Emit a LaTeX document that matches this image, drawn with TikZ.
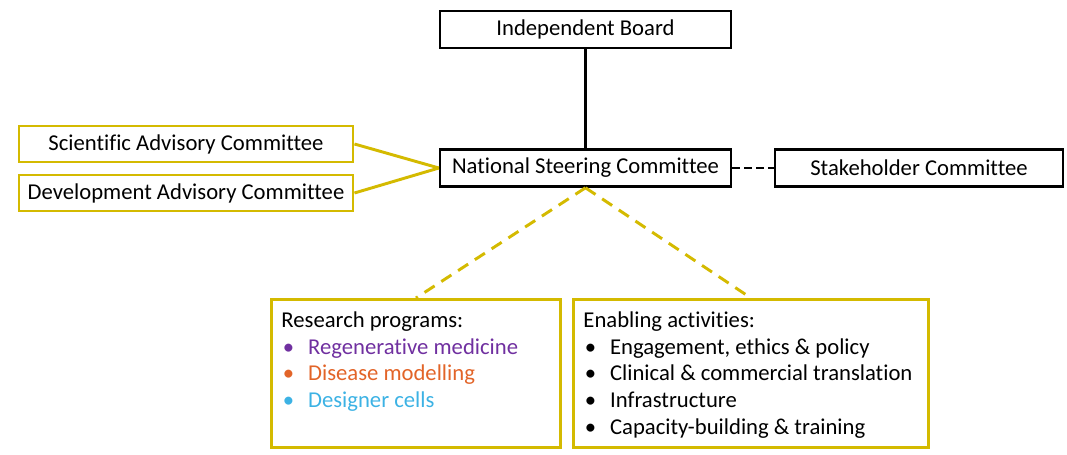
\documentclass[tikz,border=0pt]{standalone}
\usepackage{fontspec}
\setmainfont{Carlito}[Ligatures=NoCommon]
\usepackage{tikz}
\hyphenpenalty=10000
\definecolor{boxyellow}{RGB}{212,186,0}
\definecolor{regpurple}{RGB}{112,48,160}
\definecolor{disorange}{RGB}{226,100,40}
\definecolor{desblue}{RGB}{60,178,228}
\tikzset{%
    board/.style={draw=black,line width=1.9pt,inner sep=0pt,minimum width=218pt,minimum height=27.75pt,font=\fontsize{17}{20}\selectfont},
    advisory/.style={draw=boxyellow,line width=2.2pt,inner sep=0pt,minimum width=250.5pt,minimum height=27pt,font=\fontsize{17}{20}\selectfont},
    listbox/.style={draw=boxyellow,line width=2.2pt,anchor=north west,align=flush left,inner xsep=7.5pt,inner ysep=8pt,text height=13pt,text depth=82pt,font=\fontsize{17}{20}\selectfont}
}
\newcommand{\itm}[1]{\makebox[20pt][l]{\hspace{1pt}\textbullet}#1}

\begin{document}
\begin{tikzpicture}[x=0.75pt,y=-0.75pt]
        \useasboundingbox (0,0) rectangle (1067,454);

        \node[board] (ib) at (585.5,29.5) {Independent Board};
        \node[board] (nsc) at (585.5,168) {National Steering Committee};
        \node[board,minimum width=216pt] (sc) at (919,168) {Stakeholder Committee};

        \node[advisory] (sac) at (186,144) {Scientific Advisory Committee};
        \node[advisory] (dac) at (186,193) {Development Advisory Committee};

        \node[listbox,text width=201.75pt] (rp) at (270,298) {Research programs:\\
            \textcolor{regpurple}{\itm{Regenerative medicine}}\\
            \textcolor{disorange}{\itm{Disease modelling}}\\
            \textcolor{desblue}{\itm{Designer cells}}};
        \node[listbox,text width=251.25pt] (ea) at (572,298) {Enabling activities:\\
            \itm{Engagement, ethics \& policy}\\
            \itm{Clinical \& commercial translation}\\
            \itm{Infrastructure}\\
            \itm{Capacity-building \& training}};

        \draw[line width=1.9pt] (ib) -- (nsc);
        \draw[line width=1.9pt,dash pattern=on 6pt off 3pt] (nsc) -- (sc);

        \draw[boxyellow,line width=2.2pt] (sac.east) -- (nsc.west);
        \draw[boxyellow,line width=2.2pt] (dac.east) -- (nsc.west);

        \draw[boxyellow,line width=2.2pt,dash pattern=on 9pt off 6pt] (nsc.south) -- (rp.north);
        \draw[boxyellow,line width=2.2pt,dash pattern=on 9pt off 6pt] (nsc.south) -- (ea.north);
    \end{tikzpicture}
\end{document}
